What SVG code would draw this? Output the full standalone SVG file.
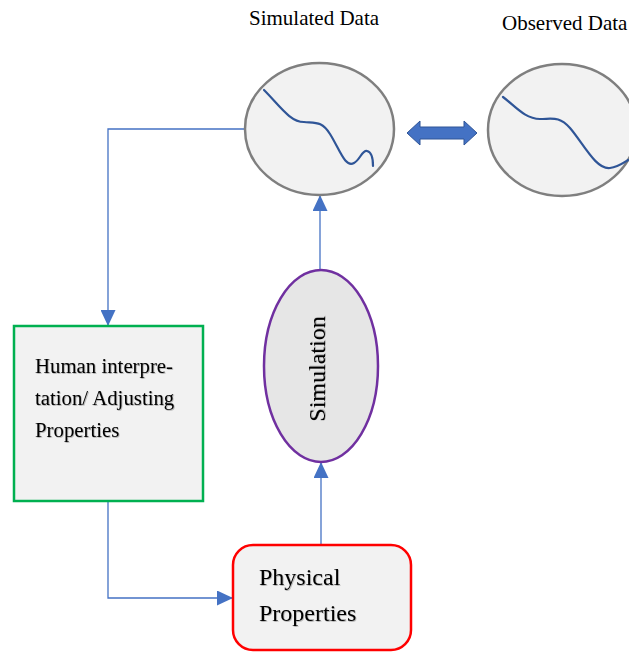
<svg xmlns="http://www.w3.org/2000/svg" width="629" height="652" viewBox="0 0 629 652">
<style>
.t{font-family:'Liberation Serif','Times New Roman','DejaVu Serif',serif;fill:#000}
.sh{filter:url(#shadow)}
.conn{fill:none;stroke:#4472C4;stroke-width:1.3}
.circ{fill:#F2F2F2;stroke:#7F7F7F;stroke-width:2.5}
.curve{fill:none;stroke:#2F5597;stroke-width:2.2;stroke-linecap:round}
</style>
<defs>
<marker id="ah" viewBox="0 0 16 15" refX="16" refY="7.5" markerWidth="16" markerHeight="15" markerUnits="userSpaceOnUse" orient="auto">
<path d="M0,0 L16,7.5 L0,15 Z" fill="#4472C4"/>
</marker>
<filter id="shadow" x="-10%" y="-30%" width="120%" height="160%">
<feDropShadow dx="0.8" dy="0.8" stdDeviation="0.6" flood-color="#000" flood-opacity="0.3"/>
</filter>
</defs>
<rect width="629" height="652" fill="#fff"/>
<g id="connectors">
<path class="conn" d="M245,129 H108 V326" marker-end="url(#ah)"/>
<path class="conn" d="M108,501 V598 H233" marker-end="url(#ah)"/>
<path class="conn" d="M321,545 V462" marker-end="url(#ah)"/>
<path class="conn" d="M320,270 V195" marker-end="url(#ah)"/>
<path d="M407,133 L420,121 L420,127 L464,127 L464,121 L477,133 L464,145 L464,139 L420,139 L420,145 Z" fill="#4472C4" stroke="#2F5597" stroke-width="1"/>
</g>
<g id="simulated">
<text class="t" x="249" y="25" font-size="21" font-family="Liberation Serif, serif">Simulated Data</text>
<ellipse class="circ" cx="319.5" cy="129" rx="74.5" ry="66"/>
<path class="curve" d="M264,90 C280,106 290,122 304,122 C316,123 322,121 330,134 C340,150 345,168 354,163 C360,160 362,150 367,151 C372,152 373,160 373,166"/>
</g>
<g id="observed">
<text class="t" x="502" y="30" font-size="21" font-family="Liberation Serif, serif">Observed Data</text>
<ellipse class="circ" cx="562" cy="130" rx="74" ry="66"/>
<path class="curve" d="M503,97 C515,106 525,119 540,119 C553,119 559,116 570,128 C583,143 596,170 610,168 C618,167 623,163 628,160"/>
</g>
<g id="simulation">
<ellipse cx="321" cy="366" rx="57" ry="96" fill="#E6E6E6" stroke="#7030A0" stroke-width="2.5"/>
<text class="t sh" transform="translate(325,369) rotate(-90)" text-anchor="middle" font-size="24" font-family="Liberation Serif, serif">Simulation</text>
</g>
<g id="human">
<rect x="14" y="326" width="189" height="175" fill="#F2F2F2" stroke="#00B050" stroke-width="2.5"/>
<text class="t sh" x="35" y="373" font-size="20.8" font-family="Liberation Serif, serif">Human interpre-</text>
<text class="t sh" x="35" y="405" font-size="20.8" font-family="Liberation Serif, serif">tation/ Adjusting</text>
<text class="t sh" x="35" y="437" font-size="20.8" font-family="Liberation Serif, serif">Properties</text>
</g>
<g id="physical">
<rect x="233" y="545" width="178" height="105" rx="20" fill="#F2F2F2" stroke="#FF0000" stroke-width="2.5"/>
<text class="t sh" x="259" y="585" font-size="24" font-family="Liberation Serif, serif">Physical</text>
<text class="t sh" x="259" y="621" font-size="24" font-family="Liberation Serif, serif">Properties</text>
</g>
</svg>
